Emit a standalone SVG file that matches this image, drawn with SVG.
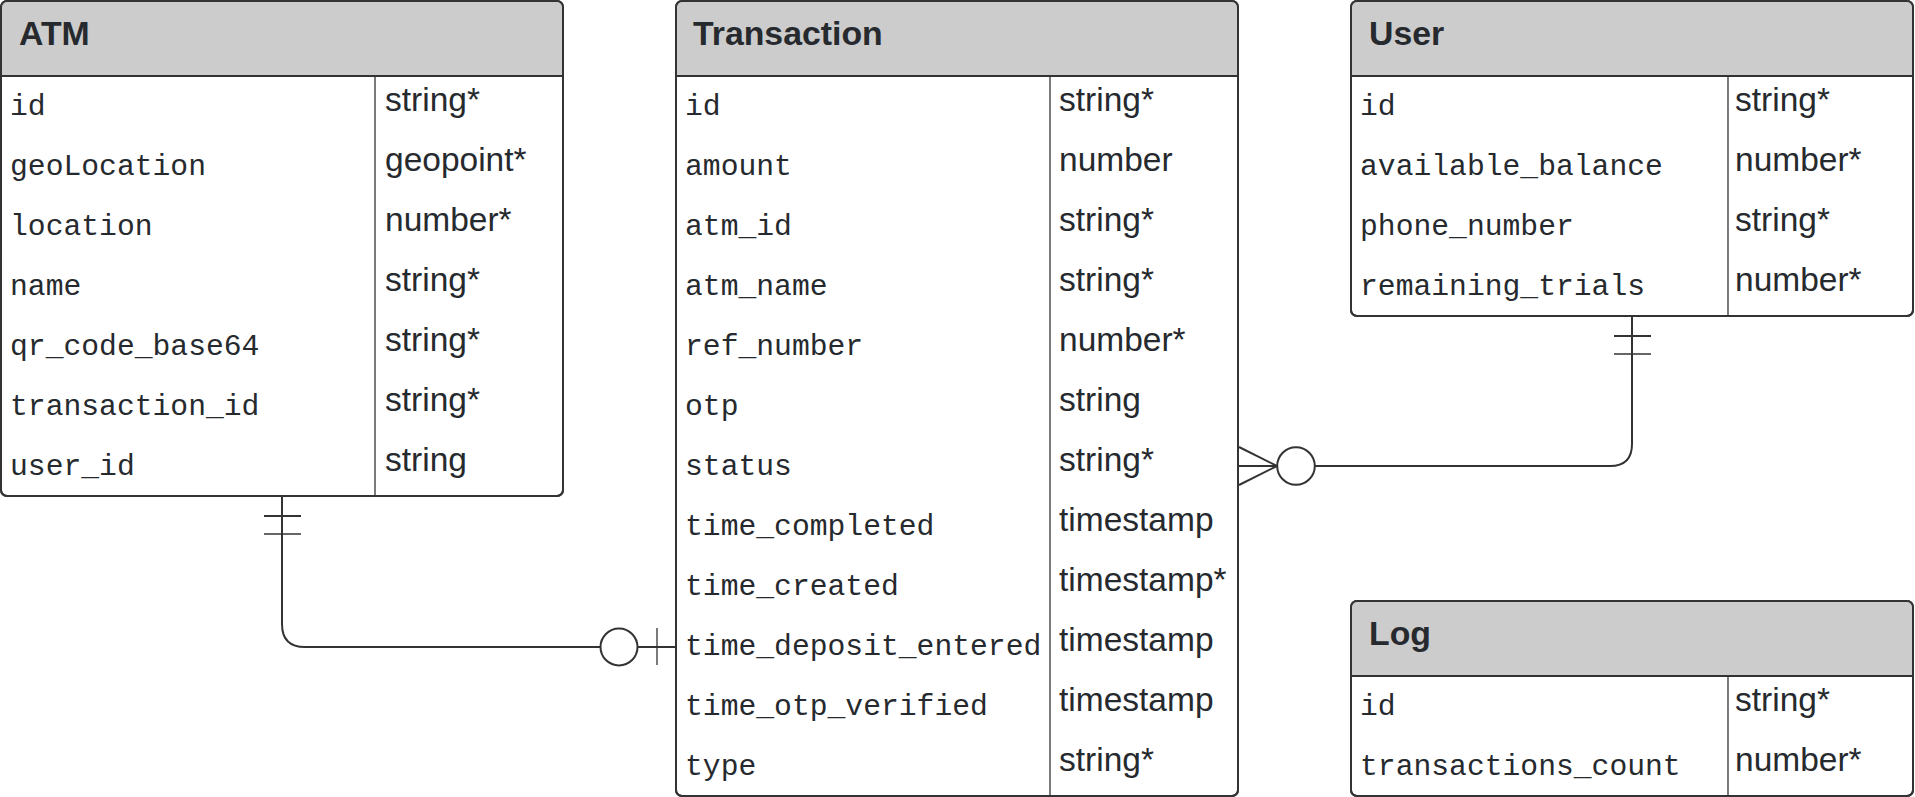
<svg xmlns="http://www.w3.org/2000/svg" width="1915" height="797" viewBox="0 0 1915 797">
<style>
.box{fill:#ffffff;stroke:#333333;stroke-width:2}
.hdr{fill:#cccccc;stroke:none}
.hl{stroke:#333333;stroke-width:2}
.div{stroke:#333333;stroke-width:1.3}
.title{font-family:"Liberation Sans",Arial,sans-serif;font-weight:bold;font-size:33.8px;fill:#262a2e}
.name{font-family:"Liberation Mono","DejaVu Sans Mono",monospace;font-size:29.7px;fill:#262a2e}
.type{font-family:"Liberation Sans",Arial,sans-serif;font-size:33.5px;fill:#262a2e}
.con{fill:none;stroke:#333333;stroke-width:2}
.thin{fill:none;stroke:#333333;stroke-width:1.3}
</style>
<g id="connectors">
  <path class="con" d="M282,497 V624 Q282,647 305,647 H600.5"/>
  <circle class="con" cx="619" cy="647" r="18.5"/>
  <path class="con" d="M637.5,647 H676"/>
  <path class="thin" d="M657,628 V665"/>
  <path class="con" d="M264,516 H301"/>
  <path class="thin" d="M264,534 H301"/>
  <path class="con" d="M1632,317 V444 Q1632,466 1610,466 H1315"/>
  <circle class="con" cx="1296" cy="466" r="18.8"/>
  <path class="con" d="M1277,466 L1239,447 M1277,466 L1239,466 M1277,466 L1239,485"/>
  <path class="con" d="M1614,336 H1651"/>
  <path class="thin" d="M1614,354 H1651"/>
</g>
<g id="atm">
  <rect class="box" x="1" y="1" width="562" height="495" rx="6"/>
  <path class="hdr" d="M2,76 V7 Q2,2 7,2 H557 Q562,2 562,7 V76 Z"/>
  <rect x="1" y="1" width="562" height="495" rx="6" fill="none" stroke="#333333" stroke-width="2"/>
  <line class="hl" x1="1" y1="76" x2="563" y2="76"/>
  <line class="div" x1="375" y1="76" x2="375" y2="496"/>
  <text class="title" x="19" y="45">ATM</text>
  <text class="name" x="10" y="115">id</text><text class="type" x="385" y="111">string*</text>
  <text class="name" x="10" y="175">geoLocation</text><text class="type" x="385" y="171">geopoint*</text>
  <text class="name" x="10" y="235">location</text><text class="type" x="385" y="231">number*</text>
  <text class="name" x="10" y="295">name</text><text class="type" x="385" y="291">string*</text>
  <text class="name" x="10" y="355">qr_code_base64</text><text class="type" x="385" y="351">string*</text>
  <text class="name" x="10" y="415">transaction_id</text><text class="type" x="385" y="411">string*</text>
  <text class="name" x="10" y="475">user_id</text><text class="type" x="385" y="471">string</text>
</g>
<g id="transaction">
  <rect class="box" x="676" y="1" width="562" height="795" rx="6"/>
  <path class="hdr" d="M677,76 V7 Q677,2 682,2 H1232 Q1237,2 1237,7 V76 Z"/>
  <rect x="676" y="1" width="562" height="795" rx="6" fill="none" stroke="#333333" stroke-width="2"/>
  <line class="hl" x1="676" y1="76" x2="1238" y2="76"/>
  <line class="div" x1="1050" y1="76" x2="1050" y2="796"/>
  <text class="title" x="693" y="45">Transaction</text>
  <text class="name" x="685" y="115">id</text><text class="type" x="1059" y="111">string*</text>
  <text class="name" x="685" y="175">amount</text><text class="type" x="1059" y="171">number</text>
  <text class="name" x="685" y="235">atm_id</text><text class="type" x="1059" y="231">string*</text>
  <text class="name" x="685" y="295">atm_name</text><text class="type" x="1059" y="291">string*</text>
  <text class="name" x="685" y="355">ref_number</text><text class="type" x="1059" y="351">number*</text>
  <text class="name" x="685" y="415">otp</text><text class="type" x="1059" y="411">string</text>
  <text class="name" x="685" y="475">status</text><text class="type" x="1059" y="471">string*</text>
  <text class="name" x="685" y="535">time_completed</text><text class="type" x="1059" y="531">timestamp</text>
  <text class="name" x="685" y="595">time_created</text><text class="type" x="1059" y="591">timestamp*</text>
  <text class="name" x="685" y="655">time_deposit_entered</text><text class="type" x="1059" y="651">timestamp</text>
  <text class="name" x="685" y="715">time_otp_verified</text><text class="type" x="1059" y="711">timestamp</text>
  <text class="name" x="685" y="775">type</text><text class="type" x="1059" y="771">string*</text>
</g>
<g id="user">
  <rect class="box" x="1351" y="1" width="562" height="315" rx="6"/>
  <path class="hdr" d="M1352,76 V7 Q1352,2 1357,2 H1907 Q1912,2 1912,7 V76 Z"/>
  <rect x="1351" y="1" width="562" height="315" rx="6" fill="none" stroke="#333333" stroke-width="2"/>
  <line class="hl" x1="1351" y1="76" x2="1913" y2="76"/>
  <line class="div" x1="1728" y1="76" x2="1728" y2="316"/>
  <text class="title" x="1369" y="45">User</text>
  <text class="name" x="1360" y="115">id</text><text class="type" x="1735" y="111">string*</text>
  <text class="name" x="1360" y="175">available_balance</text><text class="type" x="1735" y="171">number*</text>
  <text class="name" x="1360" y="235">phone_number</text><text class="type" x="1735" y="231">string*</text>
  <text class="name" x="1360" y="295">remaining_trials</text><text class="type" x="1735" y="291">number*</text>
</g>
<g id="log">
  <rect class="box" x="1351" y="601" width="562" height="195" rx="6"/>
  <path class="hdr" d="M1352,676 V607 Q1352,602 1357,602 H1907 Q1912,602 1912,607 V676 Z"/>
  <rect x="1351" y="601" width="562" height="195" rx="6" fill="none" stroke="#333333" stroke-width="2"/>
  <line class="hl" x1="1351" y1="676" x2="1913" y2="676"/>
  <line class="div" x1="1728" y1="676" x2="1728" y2="796"/>
  <text class="title" x="1369" y="645">Log</text>
  <text class="name" x="1360" y="715">id</text><text class="type" x="1735" y="711">string*</text>
  <text class="name" x="1360" y="775">transactions_count</text><text class="type" x="1735" y="771">number*</text>
</g>
</svg>
